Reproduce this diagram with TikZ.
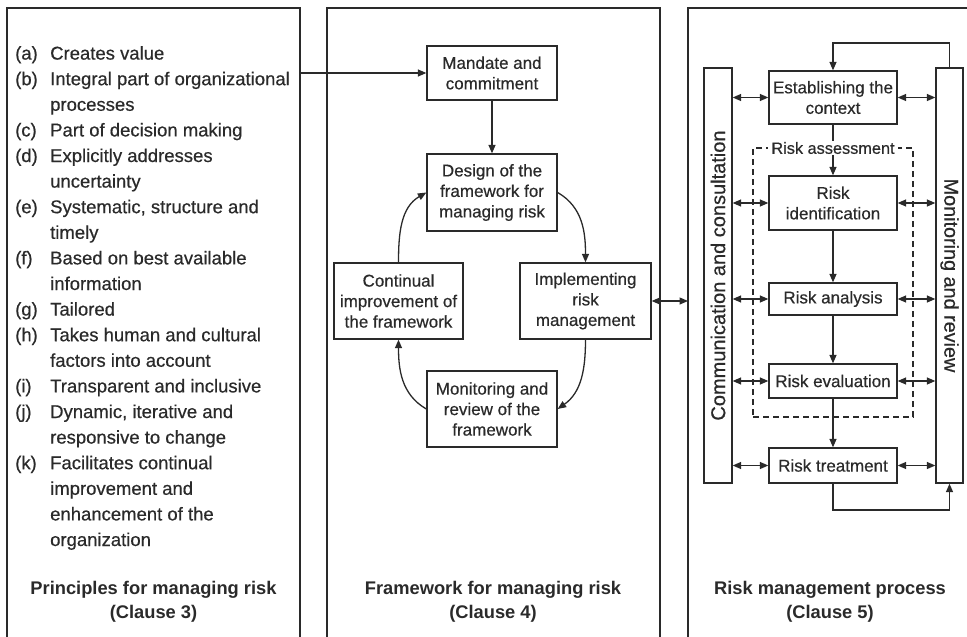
\documentclass[tikz,border=0pt]{standalone}
\usepackage{fontspec}
\setmainfont{Liberation Sans}
\newfontfamily\medfont{Liberation Sans}[FakeBold=0.5]
\usetikzlibrary{arrows.meta}
\definecolor{ink}{HTML}{2A2A2A}
\begin{document}
\begin{tikzpicture}[x=1pt,y=-1pt,
  every node/.style={text=ink},
  tip/.tip={Triangle[length=8.5pt,width=7pt]},
  line/.style={draw=ink, line width=1.3pt},
  panel/.style={draw=ink, line width=1.4pt},
  box/.style={draw=ink, line width=1.3pt, fill=white, align=center, inner sep=0pt,
    font=\medfont\fontsize{17}{20.5}\selectfont},
  bar/.style={draw=ink, line width=1.3pt, fill=white, inner sep=0pt, minimum height=415pt},
  arr/.style={line, -tip},
  darr/.style={line, tip-tip},
  lab/.style={anchor=base west, inner sep=0pt, font=\medfont\fontsize{18.5}{22}\selectfont},
  title/.style={align=center, font=\bfseries\fontsize{18.3}{24}\selectfont},
]
\useasboundingbox (0,0) rectangle (967,637);

% the three panels (open at the bottom / right)
\draw[panel] (7,660) -- (7,8) -- (300,8) -- (300,660);
\draw[panel] (327,660) -- (327,8) -- (660,8) -- (660,660);
\draw[panel] (688,660) -- (688,8) -- (990,8);

% ---- principles list ----
\node[lab] (la) at (15,59.6) {(a)};  \node[lab] (ta) at (50,59.6) {Creates value};
\node[lab] (lb) at (15,85.2) {(b)};  \node[lab] (tb) at (50,85.2) {Integral part of organizational};
\node[lab] (tb2) at (50,110.8) {processes};
\node[lab] (lc) at (15,136.4) {(c)}; \node[lab] (tc) at (50,136.4) {Part of decision making};
\node[lab] (ld) at (15,162.0) {(d)}; \node[lab] (td) at (50,162.0) {Explicitly addresses};
\node[lab] (td2) at (50,187.6) {uncertainty};
\node[lab] (le) at (15,213.2) {(e)}; \node[lab] (te) at (50,213.2) {Systematic, structure and};
\node[lab] (te2) at (50,238.8) {timely};
\node[lab] (lf) at (15,264.4) {(f)}; \node[lab] (tf) at (50,264.4) {Based on best available};
\node[lab] (tf2) at (50,290.0) {information};
\node[lab] (lg) at (15,315.6) {(g)}; \node[lab] (tg) at (50,315.6) {Tailored};
\node[lab] (lh) at (15,341.2) {(h)}; \node[lab] (th) at (50,341.2) {Takes human and cultural};
\node[lab] (th2) at (50,366.8) {factors into account};
\node[lab] (li) at (15,392.4) {(i)}; \node[lab] (ti) at (50,392.4) {Transparent and inclusive};
\node[lab] (lj) at (15,418.0) {(j)}; \node[lab] (tj) at (50,418.0) {Dynamic, iterative and};
\node[lab] (tj2) at (50,443.6) {responsive to change};
\node[lab] (lk) at (15,469.2) {(k)}; \node[lab] (tk) at (50,469.2) {Facilitates continual};
\node[lab] (tk2) at (50,494.8) {improvement and};
\node[lab] (tk3) at (50,520.4) {enhancement of the};
\node[lab] (tk4) at (50,546.0) {organization};

% ---- framework ----
\node[box, minimum width=130pt, minimum height=54pt] (mandate) at (492,73) {Mandate and\\commitment};
\node[box, minimum width=130pt, minimum height=77pt] (design) at (492,192.5) {Design of the\\framework for\\managing risk};
\node[box, minimum width=129pt, minimum height=76pt] (cont) at (398.5,301) {Continual\\improvement of\\the framework};
\node[box, minimum width=131pt, minimum height=76pt] (impl) at (585.5,301) {Implementing\\risk\\management};
\node[box, minimum width=130pt, minimum height=76pt] (monfw) at (492,409) {Monitoring and\\review of the\\framework};

\coordinate (lpedge) at (300,73);
\coordinate (rpedge) at (688,301);
\draw[arr] (lpedge) -- (mandate.west);
\draw[arr] (mandate) -- (design);
\draw[arr] (design.east) to[out=-30,in=90] (impl.north);
\draw[arr] (impl.south) to[out=-90,in=35] (monfw.east);
\draw[arr] (monfw.west) to[out=150,in=-90] (cont.south);
\draw[arr] (cont.north) to[out=90,in=-150] (design.west);
\draw[darr] (impl.east) -- (rpedge);

% ---- process ----
\node[bar, minimum width=28pt] (comm) at (718,275.5) {};
\node[rotate=90, font=\medfont\fontsize{20}{22}\selectfont] (commtext) at (comm.center) {Communication and consultation};
\node[bar, minimum width=27pt] (mon) at (949.5,275.5) {};
\node[rotate=-90, font=\medfont\fontsize{19.8}{22}\selectfont] (montext) at (mon.center) {Monitoring and review};

\node[draw=ink, line width=1.1pt, dash pattern=on 6pt off 4pt, minimum width=160pt, minimum height=269pt, inner sep=0pt] (assess) at (833,282.5) {};

\node[box, minimum width=128pt, minimum height=53pt] (est) at (833,97.5) {Establishing the\\context};
\node[box, minimum width=128pt, minimum height=54pt] (riskid) at (833,203) {Risk\\identification};
\node[box, minimum width=128pt, minimum height=32pt] (analysis) at (833,299) {Risk analysis};
\node[box, minimum width=128pt, minimum height=34pt] (evaluation) at (833,381) {Risk evaluation};
\node[box, minimum width=128pt, minimum height=35pt] (treat) at (833,465.5) {Risk treatment};

\draw[arr] (est) -- (riskid);
\node[fill=white, inner xsep=3pt, inner ysep=1pt, font=\medfont\fontsize{16.3}{18}\selectfont] (assesslab) at (833,148) {Risk assessment};
\draw[arr] (riskid) -- (analysis);
\draw[arr] (analysis) -- (evaluation);
\draw[arr] (evaluation) -- (treat);

\foreach \b in {est,riskid,analysis,evaluation,treat} {
  \draw[darr] (\b.west -| comm.east) -- (\b.west);
  \draw[darr] (\b.east) -- (\b.east -| mon.west);
}

\coordinate (fbtop) at (833,43);
\coordinate (fbbot) at (833,510);
\draw[arr] (mon.north) |- (fbtop) -- (est.north);
\draw[arr] (treat.south) -- (fbbot) -| (mon.south);

% ---- panel titles ----
\node[title] (t1) at (153.5,602) {Principles for managing risk\\(Clause 3)};
\node[title] (t2) at (493,602) {Framework for managing risk\\(Clause 4)};
\node[title] (t3) at (830,602) {Risk management process\\(Clause 5)};
\end{tikzpicture}
\end{document}
